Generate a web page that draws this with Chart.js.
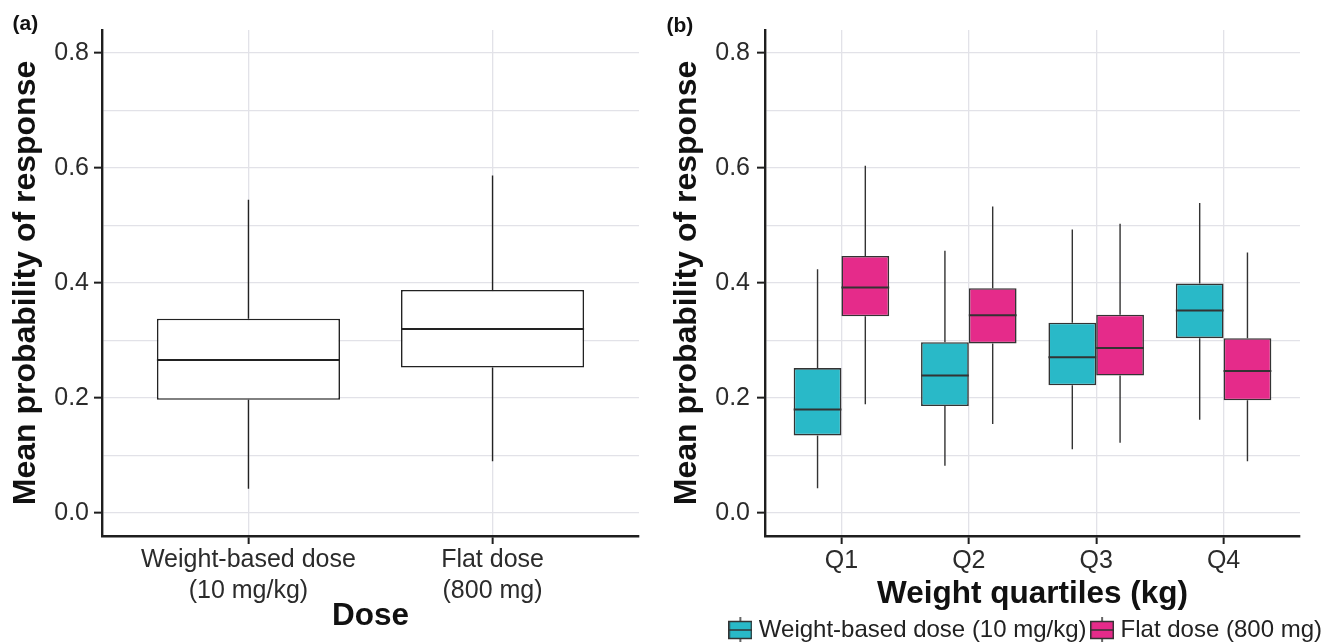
<!DOCTYPE html>
<html>
<head>
<meta charset="utf-8">
<script src="https://cdn.jsdelivr.net/npm/chart.js@4.4.1/dist/chart.umd.min.js"></script>
<style>
html, body { margin: 0; padding: 0; background: #ffffff; overflow: hidden; width: 1326px; height: 642px; }
#wrap { position: relative; width: 1326px; height: 642px; overflow: hidden; background: #ffffff; }
canvas { position: absolute; top: 0; }
#ca { left: 0; }
#cb { left: 660px; }
</style>
</head>
<body>
<div id="wrap">
  <canvas id="ca" width="660" height="642"></canvas>
  <canvas id="cb" width="671" height="652"></canvas>
</div>
<script>
// ---------- data ----------
const panelLabels = ['(a)', '(b)'];
const yTitle = 'Mean probability of response';
const yTickValues = [0, 0.1, 0.2, 0.3, 0.4, 0.5, 0.6, 0.7, 0.8];
const yMajorTicks = [0, 0.2, 0.4, 0.6, 0.8];
const yLimits = [-0.04, 0.84];

// Panel (a)
const doseCategories = [['Weight-based dose', '(10 mg/kg)'], ['Flat dose', '(800 mg)']];
const doseTitle = 'Dose';
const doseMin    = [0.042, 0.090];
const doseQ1     = [0.197, 0.253];
const doseMedian = [0.266, 0.320];
const doseQ3     = [0.338, 0.388];
const doseMax    = [0.545, 0.587];

// Panel (b)
const quartileCategories = ['Q1', 'Q2', 'Q3', 'Q4'];
const quartileTitle = 'Weight quartiles (kg)';
const seriesNames = ['Weight-based dose (10 mg/kg)', 'Flat dose (800 mg)'];
const seriesColors = ['#29B9C8', '#E52B8A'];

const wbMin    = [0.043, 0.082, 0.111, 0.162];
const wbQ1     = [0.135, 0.186, 0.222, 0.304];
const wbMedian = [0.180, 0.239, 0.271, 0.352];
const wbQ3     = [0.252, 0.297, 0.331, 0.399];
const wbMax    = [0.424, 0.456, 0.493, 0.539];

const flatMin    = [0.189, 0.155, 0.122, 0.090];
const flatQ1     = [0.342, 0.295, 0.239, 0.196];
const flatMedian = [0.392, 0.344, 0.287, 0.247];
const flatQ3     = [0.447, 0.391, 0.345, 0.304];
const flatMax    = [0.604, 0.533, 0.503, 0.453];

// ---------- styling ----------
const FONT = "'Liberation Sans', Arial, Helvetica, sans-serif";
Chart.defaults.font.family = FONT;
Chart.defaults.color = '#2b2b2b';
const GRID = '#E2E2E8';
const AXIS = '#1e1e1e';

function isMajor(v) { return yMajorTicks.some(m => Math.abs(m - v) < 1e-9); }

const boxPlotPlugin = {
  id: 'boxPlotParts',
  beforeDatasetsDraw(chart) {
    const ctx = chart.ctx;
    const ys = chart.scales.y;
    chart.data.datasets.forEach((ds, di) => {
      const meta = chart.getDatasetMeta(di);
      meta.data.forEach((bar, i) => {
        const x = bar.x;
        ctx.save();
        ctx.strokeStyle = ds.whiskerColor;
        ctx.lineWidth = 1.4;
        ctx.beginPath();
        ctx.moveTo(x, ys.getPixelForValue(ds.boxQ3[i]));
        ctx.lineTo(x, ys.getPixelForValue(ds.whiskerMax[i]));
        ctx.moveTo(x, ys.getPixelForValue(ds.boxQ1[i]));
        ctx.lineTo(x, ys.getPixelForValue(ds.whiskerMin[i]));
        ctx.stroke();
        ctx.restore();
      });
    });
  },
  afterDatasetsDraw(chart) {
    const ctx = chart.ctx;
    const ys = chart.scales.y;
    chart.data.datasets.forEach((ds, di) => {
      const meta = chart.getDatasetMeta(di);
      meta.data.forEach((bar, i) => {
        const py = ys.getPixelForValue(ds.median[i]);
        ctx.save();
        ctx.strokeStyle = ds.whiskerColor;
        ctx.lineWidth = 2;
        ctx.beginPath();
        ctx.moveTo(bar.x - bar.width / 2, py);
        ctx.lineTo(bar.x + bar.width / 2, py);
        ctx.stroke();
        ctx.restore();
      });
    });
  }
};

const panelLabelPlugin = {
  id: 'panelLabel',
  afterDraw(chart, args, opts) {
    const ctx = chart.ctx;
    ctx.save();
    ctx.font = 'bold ' + opts.size + 'px ' + FONT;
    ctx.fillStyle = '#111';
    ctx.textAlign = 'left';
    ctx.textBaseline = 'middle';
    ctx.fillText(opts.text, opts.x, opts.y);
    ctx.restore();
  }
};

function yScale(width, titlePadTop, tickPad) {
  return {
    type: 'linear',
    position: 'left',
    min: yLimits[0],
    max: yLimits[1],
    afterBuildTicks: (s) => { s.ticks = yTickValues.map(v => ({ value: v })); },
    afterFit: (s) => { s.width = width; },
    ticks: {
      font: { size: 25 },
      color: '#2b2b2b',
      padding: tickPad,
      callback: (v) => isMajor(v) ? Number(v).toFixed(1) : ''
    },
    grid: {
      color: GRID,
      lineWidth: 1.3,
      drawTicks: true,
      tickLength: 8,
      tickWidth: 2,
      tickColor: (c) => (c.tick && isMajor(c.tick.value)) ? AXIS : 'rgba(0,0,0,0)'
    },
    border: { display: true, color: AXIS, width: 2.4 },
    title: {
      display: true,
      text: yTitle,
      color: '#111',
      font: { size: 32, weight: 'bold', lineHeight: 1 },
      padding: { top: titlePadTop, bottom: 0 }
    }
  };
}

function xScale(labels, height, title, titlePadBottom, tickPad) {
  return {
    type: 'linear',
    position: 'bottom',
    offset: false,
    min: 0.4,
    max: labels.length + 0.6,
    afterBuildTicks: (s) => { s.ticks = labels.map((l, i) => ({ value: i + 1 })); },
    afterFit: (s) => { s.height = height; },
    ticks: {
      autoSkip: false,
      maxRotation: 0,
      minRotation: 0,
      font: { size: 25, lineHeight: 1.23 },
      color: '#2b2b2b',
      padding: tickPad,
      callback: (v) => labels[Math.round(v) - 1] || ''
    },
    grid: {
      offset: false,
      color: GRID,
      lineWidth: 1.3,
      drawTicks: true,
      tickLength: 8,
      tickWidth: 2,
      tickColor: AXIS
    },
    border: { display: true, color: AXIS, width: 2.4 },
    title: {
      display: true,
      text: title,
      color: '#111',
      font: { size: 31.5, weight: 'bold', lineHeight: 1 },
      padding: { top: 0, bottom: titlePadBottom }
    }
  };
}

function boxDataset(label, q1, q3, med, lo, hi, fill, border) {
  return {
    label: label,
    data: q1.map((v, i) => ({ x: i + 1, y: [q1[i], q3[i]] })),
    backgroundColor: fill,
    borderColor: border,
    borderWidth: 1.6,
    borderSkipped: false,
    categoryPercentage: 0.75,
    barPercentage: 1,
    boxQ1: q1,
    boxQ3: q3,
    median: med,
    whiskerMin: lo,
    whiskerMax: hi,
    whiskerColor: border
  };
}

// ---------- Panel (a) ----------
new Chart(document.getElementById('ca'), {
  type: 'bar',
  data: {
    datasets: [boxDataset('Dose', doseQ1, doseQ3, doseMedian, doseMin, doseMax, '#ffffff', '#222222')]
  },
  options: {
    responsive: false,
    animation: false,
    devicePixelRatio: 1,
    events: [],
    layout: { padding: { left: 0, right: 21, top: 30, bottom: 0 } },
    scales: {
      x: xScale(doseCategories, 106, doseTitle, 10.25, 1),
      y: yScale(102, 10.5, 5)
    },
    plugins: {
      legend: { display: false },
      tooltip: { enabled: false },
      panelLabel: { text: panelLabels[0], x: 12.5, y: 24, size: 21 }
    }
  },
  plugins: [boxPlotPlugin, panelLabelPlugin]
});

// ---------- Panel (b) ----------
function legendIcon(fill) {
  const c = document.createElement('canvas');
  c.width = 24; c.height = 26;
  const g = c.getContext('2d');
  g.strokeStyle = '#333';
  g.lineWidth = 1.5;
  g.beginPath(); g.moveTo(12, 0); g.lineTo(12, 26); g.stroke();
  g.fillStyle = fill;
  g.fillRect(0.75, 4.5, 22.5, 17);
  g.strokeRect(0.75, 4.5, 22.5, 17);
  g.beginPath(); g.moveTo(0.75, 13); g.lineTo(23.25, 13); g.stroke();
  return c;
}
const legendIcons = seriesColors.map(legendIcon);

new Chart(document.getElementById('cb'), {
  type: 'bar',
  data: {
    datasets: [
      boxDataset(seriesNames[0], wbQ1, wbQ3, wbMedian, wbMin, wbMax, seriesColors[0], '#333333'),
      boxDataset(seriesNames[1], flatQ1, flatQ3, flatMedian, flatMin, flatMax, seriesColors[1], '#333333')
    ]
  },
  options: {
    responsive: false,
    animation: false,
    devicePixelRatio: 1,
    events: [],
    layout: { padding: { left: 0, right: 0, top: 30, bottom: 0 } },
    scales: {
      x: xScale(quartileCategories, 73, quartileTitle, -1, 2),
      y: yScale(105, 11, 7),
      yRight: {
        type: 'linear',
        axis: 'y',
        position: 'right',
        display: true,
        afterFit: (s) => { s.width = 31; },
        ticks: { display: false },
        grid: { display: false },
        border: { display: false },
        title: { display: false }
      }
    },
    plugins: {
      legend: {
        display: true,
        position: 'bottom',
        align: 'end',
        fullSize: true,
        labels: {
          usePointStyle: true,
          pointStyleWidth: 13,
          padding: 9,
          color: '#222',
          font: { size: 24 },
          generateLabels: (chart) => chart.data.datasets.map((ds, i) => ({
            text: ds.label,
            pointStyle: legendIcons[i],
            datasetIndex: i,
            hidden: false,
            lineWidth: 0,
            fontColor: '#222'
          }))
        }
      },
      tooltip: { enabled: false },
      panelLabel: { text: panelLabels[1], x: 6.5, y: 26, size: 21 }
    }
  },
  plugins: [boxPlotPlugin, panelLabelPlugin]
});
</script>
</body>
</html>
